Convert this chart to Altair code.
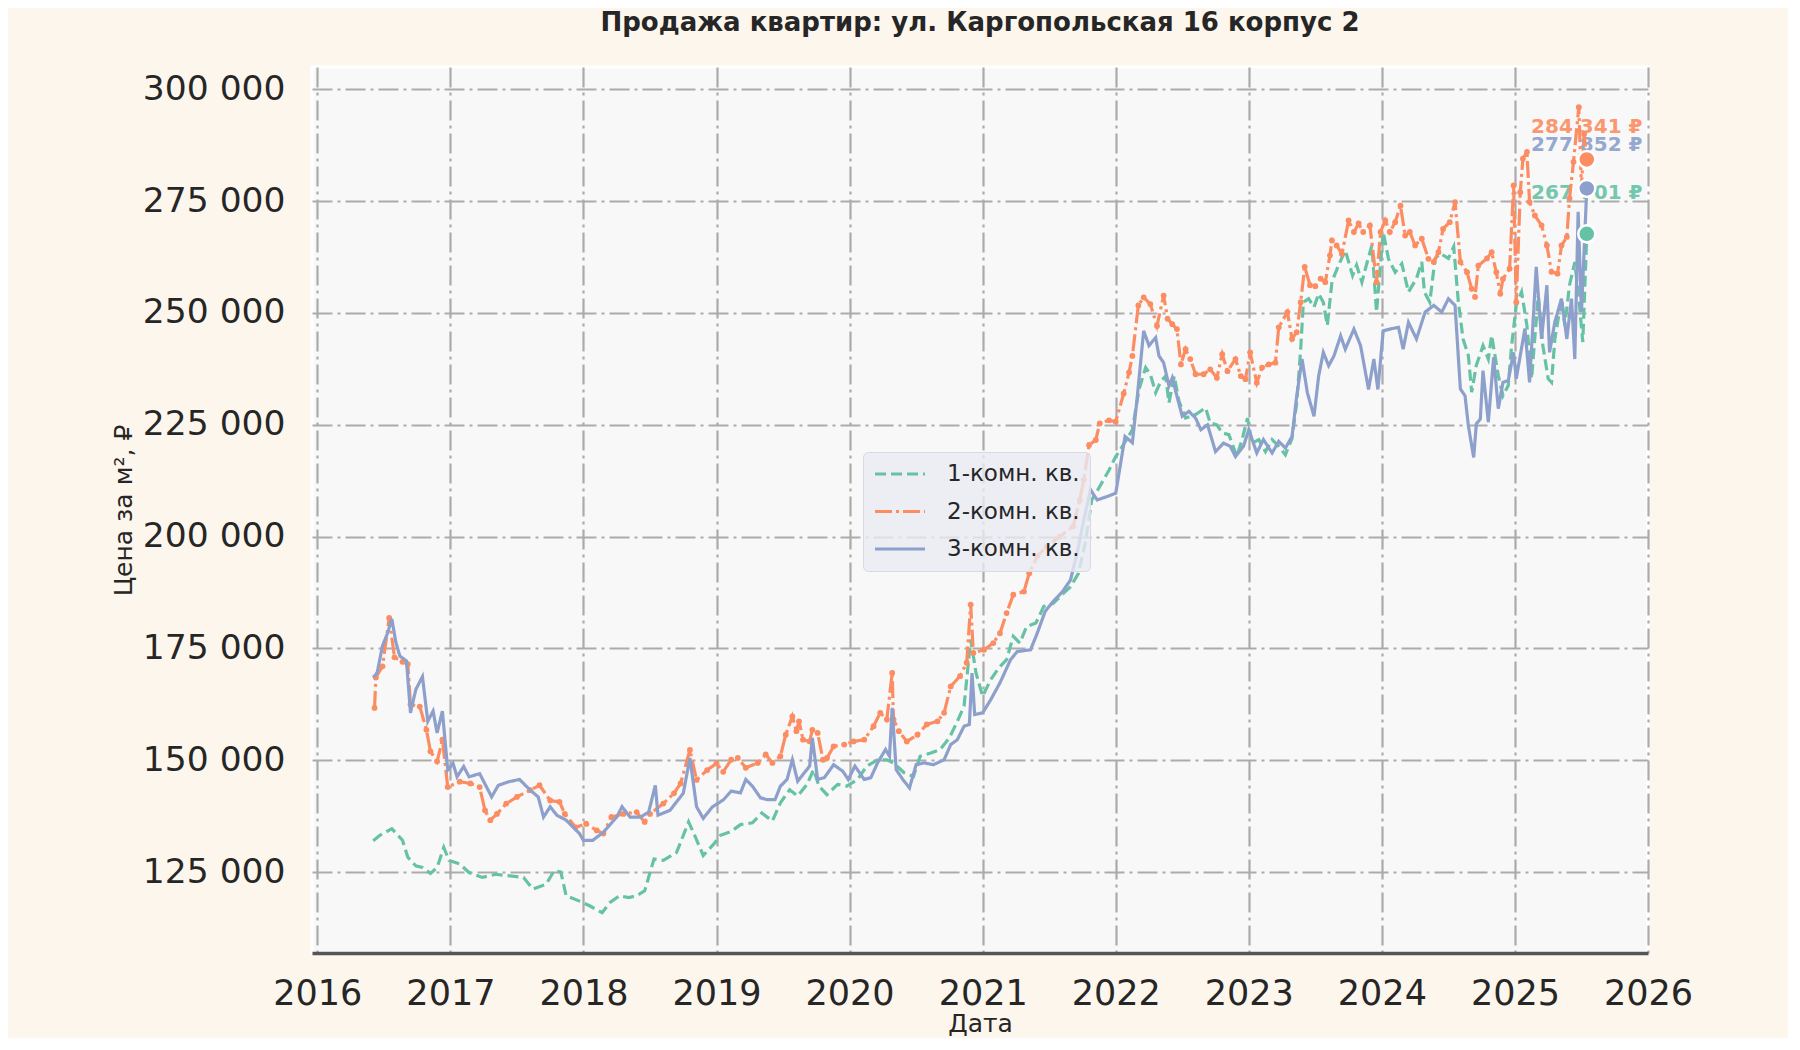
import altair as alt
import pandas as pd

chart_title = "Продажа квартир: ул. Каргопольская 16 корпус 2"
series_names = ["1-комн. кв.", "2-комн. кв.", "3-комн. кв."]
series_colors = ["#66c2a5", "#fc8d62", "#8da0cb"]
series_dashes = [[11, 5], [17, 4, 3, 4], [1, 0]]

year_ticks = list(range(2016, 2027))
price_ticks = list(range(125000, 300001, 25000))

# dates as decimal years, prices in thousand rubles per m2
one_room_t = [
    2016.42, 2016.47, 2016.56, 2016.64, 2016.68, 2016.74, 2016.79, 2016.85, 2016.90, 2016.95,
    2016.99, 2017.07, 2017.14, 2017.24, 2017.34, 2017.43, 2017.55, 2017.62, 2017.72, 2017.78,
    2017.83, 2017.87, 2017.97, 2018.05, 2018.14, 2018.20, 2018.27, 2018.34, 2018.40, 2018.46,
    2018.53, 2018.60, 2018.70, 2018.79, 2018.83, 2018.90, 2018.98, 2019.03, 2019.11, 2019.18,
    2019.27, 2019.34, 2019.42, 2019.48, 2019.55, 2019.61, 2019.68, 2019.73, 2019.77, 2019.83,
    2019.91, 2019.98, 2020.06, 2020.13, 2020.21, 2020.28, 2020.33, 2020.41, 2020.48, 2020.53,
    2020.61, 2020.68, 2020.75, 2020.81, 2020.86, 2020.91, 2020.95, 2021.00, 2021.06, 2021.12,
    2021.18, 2021.23, 2021.28, 2021.33, 2021.40, 2021.46, 2021.53, 2021.61, 2021.66, 2021.72,
    2021.77, 2021.82, 2021.88, 2021.95, 2022.00, 2022.08, 2022.125, 2022.175, 2022.225, 2022.26,
    2022.30, 2022.34, 2022.375, 2022.40, 2022.44, 2022.475, 2022.525, 2022.60, 2022.675, 2022.71,
    2022.76, 2022.80, 2022.85, 2022.91, 2022.95, 2022.99, 2023.025, 2023.075, 2023.125, 2023.175,
    2023.225, 2023.275, 2023.325, 2023.36, 2023.39, 2023.41, 2023.45, 2023.49, 2023.525, 2023.56,
    2023.59, 2023.625, 2023.675, 2023.725, 2023.78, 2023.81, 2023.85, 2023.89, 2023.925, 2023.96,
    2024.01, 2024.05, 2024.10, 2024.15, 2024.20, 2024.26, 2024.30, 2024.32, 2024.36, 2024.40,
    2024.44, 2024.50, 2024.54, 2024.575, 2024.61, 2024.65, 2024.675, 2024.71, 2024.76, 2024.80,
    2024.825, 2024.875, 2024.91, 2024.95, 2024.975, 2025.01, 2025.05, 2025.09, 2025.125, 2025.175,
    2025.21, 2025.25, 2025.275, 2025.30, 2025.35, 2025.375, 2025.41, 2025.45, 2025.485, 2025.51,
    2025.54,
]
one_room_v = [
    132.0, 133.2, 134.7, 132.1, 128.3, 126.4, 126.0, 124.7, 126.0, 130.5,
    127.6, 126.8, 124.9, 123.8, 124.5, 124.2, 123.8, 121.2, 122.3, 125.3,
    125.0, 119.7, 118.5, 117.4, 115.9, 118.2, 119.7, 119.3, 119.7, 120.8,
    127.9, 127.6, 129.4, 136.2, 133.6, 128.7, 131.3, 133.2, 134.1, 135.6,
    136.0, 138.2, 136.4, 140.5, 143.4, 142.0, 144.6, 147.9, 144.2, 142.3,
    144.6, 144.2, 145.7, 148.7, 150.1, 150.1, 149.4, 147.2, 146.4, 150.9,
    151.6, 152.4, 155.0, 158.7, 162.1, 177.0, 169.5, 164.3, 168.0, 170.6,
    172.5, 177.7, 176.2, 179.9, 180.7, 184.4, 185.1, 187.4, 188.8, 191.8,
    198.5, 208.2, 211.2, 214.9, 217.9, 221.6, 223.9, 232.9, 237.8, 236.3,
    232.2, 234.8, 235.9, 229.9, 235.9, 230.3, 226.5, 227.3, 228.8, 225.4,
    225.0, 223.2, 222.8, 217.9, 221.7, 226.5, 220.9, 221.7, 219.0, 221.7,
    220.2, 218.3, 222.0, 229.9, 241.9, 252.4, 253.2, 251.3, 254.3, 252.4,
    247.2, 257.0, 260.7, 264.0, 258.4, 260.7, 256.9, 261.4, 265.1, 250.2,
    268.1, 262.1, 259.1, 261.0, 254.7, 257.7, 261.4, 254.7, 252.4, 262.2,
    263.3, 262.2, 264.8, 252.4, 244.2, 240.5, 232.3, 238.3, 242.7, 239.7,
    245.0, 236.0, 231.5, 233.8, 242.7, 251.7, 254.7, 247.2, 235.3, 253.9,
    242.7, 235.3, 234.5, 244.2, 253.2, 247.2, 256.2, 261.4, 251.7, 243.5,
    267.7,
]

two_room_t = [
    2016.43, 2016.44, 2016.49, 2016.54, 2016.58, 2016.64, 2016.68, 2016.70, 2016.77, 2016.82,
    2016.85, 2016.90, 2016.94, 2016.98, 2017.07, 2017.15, 2017.22, 2017.26, 2017.30, 2017.35,
    2017.42, 2017.50, 2017.60, 2017.67, 2017.75, 2017.82, 2017.86, 2017.94, 2018.02, 2018.10,
    2018.15, 2018.21, 2018.30, 2018.40, 2018.46, 2018.50, 2018.60, 2018.68, 2018.73, 2018.80,
    2018.85, 2018.93, 2019.00, 2019.05, 2019.11, 2019.16, 2019.22, 2019.31, 2019.37, 2019.42,
    2019.48, 2019.52, 2019.57, 2019.60, 2019.62, 2019.65, 2019.70, 2019.72, 2019.76, 2019.80,
    2019.83, 2019.88, 2019.96, 2020.03, 2020.11, 2020.18, 2020.23, 2020.28, 2020.32, 2020.33,
    2020.37, 2020.43, 2020.51, 2020.58, 2020.66, 2020.71, 2020.76, 2020.83, 2020.88, 2020.91,
    2020.93, 2021.01, 2021.08, 2021.13, 2021.18, 2021.23, 2021.31, 2021.35, 2021.41, 2021.48,
    2021.58, 2021.68, 2021.73, 2021.76, 2021.80, 2021.85, 2021.88, 2021.95, 2022.00, 2022.06,
    2022.10, 2022.125, 2022.17, 2022.21, 2022.26, 2022.31, 2022.36, 2022.39, 2022.425, 2022.46,
    2022.49, 2022.525, 2022.56, 2022.60, 2022.66, 2022.71, 2022.76, 2022.80, 2022.84, 2022.90,
    2022.94, 2022.975, 2023.01, 2023.06, 2023.10, 2023.15, 2023.20, 2023.225, 2023.29, 2023.325,
    2023.36, 2023.39, 2023.42, 2023.46, 2023.50, 2023.54, 2023.575, 2023.61, 2023.625, 2023.66,
    2023.70, 2023.75, 2023.79, 2023.825, 2023.86, 2023.91, 2023.96, 2023.99, 2024.025, 2024.06,
    2024.10, 2024.14, 2024.175, 2024.21, 2024.25, 2024.30, 2024.35, 2024.39, 2024.425, 2024.46,
    2024.51, 2024.55, 2024.59, 2024.64, 2024.675, 2024.70, 2024.725, 2024.79, 2024.825, 2024.86,
    2024.89, 2024.91, 2024.96, 2024.99, 2025.01, 2025.04, 2025.06, 2025.09, 2025.11, 2025.15,
    2025.20, 2025.24, 2025.275, 2025.32, 2025.35, 2025.39, 2025.41, 2025.44, 2025.48, 2025.50,
    2025.52, 2025.54,
]
two_room_v = [
    161.7, 168.5, 171.0, 181.8, 173.0, 172.0, 171.5, 162.5, 162.0, 156.8,
    152.0, 149.7, 154.6, 144.0, 145.2, 144.8, 144.0, 138.8, 136.6, 138.0,
    140.3, 141.8, 143.3, 144.4, 141.0, 140.7, 138.0, 135.0, 135.8, 134.3,
    133.6, 137.3, 138.0, 138.4, 136.2, 138.0, 140.3, 142.6, 144.8, 152.3,
    145.6, 147.8, 149.3, 147.4, 150.1, 150.5, 148.3, 149.4, 151.3, 149.4,
    150.9, 155.7, 159.8, 156.5, 158.7, 154.6, 154.2, 156.8, 156.1, 150.1,
    150.5, 153.1, 153.5, 154.2, 154.6, 157.6, 160.6, 159.1, 169.5, 159.1,
    156.5, 154.2, 155.7, 158.0, 158.7, 160.6, 166.5, 168.8, 171.8, 184.8,
    174.0, 174.7, 176.2, 178.4, 182.9, 187.0, 187.7, 191.8, 195.6, 197.8,
    200.0, 202.3, 208.2, 212.7, 220.5, 221.6, 225.3, 226.0, 225.7, 232.0,
    236.7, 240.4, 251.7, 253.5, 252.0, 247.1, 253.9, 248.7, 247.5, 246.4,
    238.5, 241.9, 239.7, 236.3, 236.3, 237.4, 235.5, 240.8, 237.0, 239.7,
    235.9, 235.2, 241.2, 234.4, 237.8, 238.5, 238.9, 246.8, 250.2, 244.2,
    245.7, 252.4, 260.3, 256.2, 256.0, 257.7, 256.9, 262.9, 266.2, 265.1,
    263.2, 270.7, 268.1, 270.0, 268.1, 269.6, 256.9, 268.1, 270.7, 268.1,
    270.3, 274.0, 267.3, 268.1, 265.1, 266.6, 262.1, 261.4, 263.6, 268.8,
    270.3, 274.8, 261.4, 259.1, 255.4, 253.6, 260.6, 262.2, 263.6, 259.1,
    254.3, 257.6, 259.9, 278.5, 252.4, 277.0, 284.5, 286.0, 274.8, 271.8,
    269.6, 265.1, 259.2, 258.8, 265.1, 267.0, 275.6, 283.8, 296.0, 278.0,
    290.0, 284.3,
]

three_room_t = [
    2016.42, 2016.45, 2016.49, 2016.53, 2016.56, 2016.59, 2016.62, 2016.67, 2016.70, 2016.74,
    2016.79, 2016.83, 2016.87, 2016.90, 2016.94, 2016.98, 2017.02, 2017.05, 2017.10, 2017.14,
    2017.22, 2017.31, 2017.36, 2017.44, 2017.52, 2017.60, 2017.66, 2017.70, 2017.75, 2017.80,
    2017.87, 2017.97, 2018.00, 2018.07, 2018.15, 2018.25, 2018.29, 2018.35, 2018.43, 2018.49,
    2018.54, 2018.56, 2018.65, 2018.75, 2018.80, 2018.85, 2018.90, 2018.97, 2019.05, 2019.11,
    2019.18, 2019.22, 2019.27, 2019.33, 2019.38, 2019.44, 2019.48, 2019.53, 2019.57, 2019.61,
    2019.66, 2019.70, 2019.72, 2019.76, 2019.81, 2019.88, 2019.95, 2019.99, 2020.04, 2020.11,
    2020.16, 2020.21, 2020.27, 2020.30, 2020.32, 2020.35, 2020.40, 2020.45, 2020.50, 2020.56,
    2020.63, 2020.71, 2020.76, 2020.81, 2020.86, 2020.90, 2020.92, 2020.94, 2021.00, 2021.06,
    2021.13, 2021.21, 2021.26, 2021.36, 2021.41, 2021.47, 2021.53, 2021.60, 2021.66, 2021.71,
    2021.76, 2021.81, 2021.86, 2021.93, 2022.00, 2022.07, 2022.125, 2022.16, 2022.21, 2022.25,
    2022.30, 2022.325, 2022.36, 2022.40, 2022.425, 2022.46, 2022.50, 2022.55, 2022.60, 2022.64,
    2022.69, 2022.75, 2022.81, 2022.86, 2022.90, 2022.96, 2023.00, 2023.06, 2023.11, 2023.175,
    2023.225, 2023.275, 2023.325, 2023.36, 2023.40, 2023.44, 2023.49, 2023.525, 2023.56, 2023.60,
    2023.64, 2023.69, 2023.725, 2023.79, 2023.84, 2023.90, 2023.94, 2023.97, 2024.01, 2024.06,
    2024.125, 2024.16, 2024.20, 2024.26, 2024.325, 2024.39, 2024.45, 2024.50, 2024.55, 2024.59,
    2024.625, 2024.65, 2024.69, 2024.71, 2024.74, 2024.76, 2024.80, 2024.84, 2024.875, 2024.91,
    2024.95, 2024.99, 2025.01, 2025.075, 2025.11, 2025.16, 2025.20, 2025.24, 2025.26, 2025.30,
    2025.35, 2025.39, 2025.425, 2025.45, 2025.475, 2025.50, 2025.54,
]
three_room_v = [
    168.5, 169.6, 175.6, 178.6, 181.6, 176.4, 173.3, 172.2, 160.6, 165.8,
    168.7, 158.7, 161.0, 156.1, 161.0, 147.8, 149.3, 146.3, 148.6, 146.3,
    147.0, 141.8, 144.4, 145.2, 145.7, 143.3, 141.8, 137.3, 139.6, 137.7,
    136.6, 133.6, 132.1, 132.1, 133.9, 137.3, 139.6, 137.3, 137.3, 138.4,
    144.4, 137.7, 138.8, 142.6, 150.5, 139.6, 137.0, 139.6, 141.1, 143.1,
    142.7, 145.7, 144.2, 141.6, 141.2, 141.2, 144.2, 145.7, 150.1, 145.3,
    147.2, 148.7, 155.0, 145.7, 146.1, 149.0, 147.5, 145.7, 148.7, 145.7,
    146.1, 149.4, 152.4, 150.9, 161.7, 147.9, 145.7, 143.8, 149.0, 149.4,
    149.0, 150.1, 153.5, 154.6, 157.6, 158.0, 169.5, 160.2, 160.6, 163.5,
    167.3, 172.5, 174.3, 174.7, 178.4, 183.3, 185.5, 187.7, 190.3, 196.3,
    203.7, 210.5, 208.2, 208.9, 209.7, 222.4, 221.0, 230.7, 246.0, 242.7,
    244.5, 240.4, 238.9, 233.7, 235.5, 231.4, 226.9, 228.0, 226.5, 223.9,
    225.0, 219.0, 220.9, 220.2, 217.9, 220.2, 223.9, 218.7, 221.7, 218.7,
    221.3, 219.8, 222.4, 231.4, 239.7, 232.2, 226.9, 235.9, 241.2, 238.2,
    240.4, 244.9, 241.9, 246.4, 242.7, 232.9, 239.7, 232.9, 246.0, 246.4,
    246.8, 241.9, 247.9, 244.2, 250.2, 251.7, 250.2, 253.2, 251.7, 233.0,
    231.5, 224.8, 217.7, 225.2, 226.3, 237.1, 225.6, 240.1, 228.6, 234.5,
    234.9, 241.2, 235.3, 246.5, 234.5, 260.3, 244.2, 256.2, 241.2, 248.0,
    253.2, 244.2, 253.2, 239.7, 272.6, 250.2, 277.9,
]

end_t = 2025.54
end_values = [267701, 284341, 277852]
label_dy = [-41, -32, -43]

FONT = "DejaVu Sans"
TEXT = "#262626"


def _series_frame(name, ts, vs):
    return pd.DataFrame({"t": ts, "price": [v * 1000 for v in vs], "series": name})


frames = [
    _series_frame(series_names[0], one_room_t, one_room_v),
    _series_frame(series_names[1], two_room_t, two_room_v),
    _series_frame(series_names[2], three_room_t, three_room_v),
]

x_enc = alt.X(
    "t:Q",
    scale=alt.Scale(domain=[2015.96, 2026.0], nice=False, zero=False),
    axis=alt.Axis(values=year_ticks, format="d", title="Дата", labelPadding=23,
                  labelOverlap=False, labelFlush=False, labelBound=False,
                  titleX=668, titleY=58),
)
y_enc = alt.Y(
    "price:Q",
    scale=alt.Scale(domain=[106900, 305000], nice=False, zero=False),
    axis=alt.Axis(values=price_ticks, title="Цена за м², ₽", labelPadding=27,
                  labelOverlap=False,
                  labelExpr="replace(format(datum.value, ','), ',', ' ')",
                  titleX=-176, titleY=443),
)

# custom stroke path: 50px long line for symbolSize 400, label placed after it
legend = alt.Legend(
    title=None, orient="none", legendX=551, legendY=385,
    fillColor="rgba(234,234,242,0.8)", strokeColor="#d9d9e3", cornerRadius=5,
    padding=10, labelFont=FONT, labelFontSize=23, labelColor=TEXT,
    symbolType="M-1,0H4", symbolSize=400, symbolStrokeWidth=3.2,
    labelOffset=50, rowPadding=13.5,
)
color_enc = alt.Color("series:N", scale=alt.Scale(domain=series_names, range=series_colors),
                      legend=legend)
dash_enc = alt.StrokeDash("series:N", scale=alt.Scale(domain=series_names, range=series_dashes),
                          legend=legend)

layers = []

# value labels at the last point (drawn first, lines go over them)
for name, col, val, dy in zip(series_names, series_colors, end_values, label_dy):
    lab = pd.DataFrame({"t": [end_t], "price": [val],
                        "label": [f"{val:,}".replace(",", " ") + " ₽"]})
    layers.append(
        alt.Chart(lab).mark_text(font=FONT, fontSize=20, fontWeight="bold", color=col,
                                 opacity=0.9, dy=dy, align="center", baseline="middle")
        .encode(x=x_enc, y=y_enc, text="label:N")
    )

for i, df in enumerate(frames):
    layers.append(
        alt.Chart(df).mark_line(strokeWidth=3.2, strokeCap="butt")
        .encode(x=x_enc, y=y_enc, color=color_enc, strokeDash=dash_enc)
    )
    if i == 1:
        layers.append(
            alt.Chart(df).mark_circle(size=34, opacity=1, color=series_colors[1])
            .encode(x=x_enc, y=y_enc)
        )

for name, col, val in zip(series_names, series_colors, end_values):
    dot = pd.DataFrame({"t": [end_t], "price": [val]})
    layers.append(
        alt.Chart(dot).mark_circle(size=290, opacity=1, color=col, stroke="white",
                                   strokeWidth=2.5)
        .encode(x=x_enc, y=y_enc)
    )

chart = alt.layer(*layers).properties(
    width=1336,
    height=886,
    title=chart_title,
    autosize="none",
    padding={"left": 304, "top": 59, "right": 140, "bottom": 85},
    background="#fdf6ed",
).configure_view(
    fill="#f8f8f8", stroke="white", strokeWidth=3,
).configure_axis(
    grid=True, gridColor="#ababab", gridDash=[20, 5, 3, 5], gridWidth=2.2,
    ticks=False, labelFont=FONT, labelFontSize=34.5, labelColor=TEXT,
    titleFont=FONT, titleFontSize=25, titleFontWeight="normal", titleColor=TEXT,
).configure_axisX(
    domain=True, domainColor="#555555", domainWidth=3.4, labelFontSize=35,
).configure_axisY(
    domain=False,
).configure_title(
    font=FONT, fontSize=26, fontWeight="bold", color=TEXT, anchor="middle", offset=31,
)

chart.save("out.html", embed_options={"renderer": "svg", "actions": False})
